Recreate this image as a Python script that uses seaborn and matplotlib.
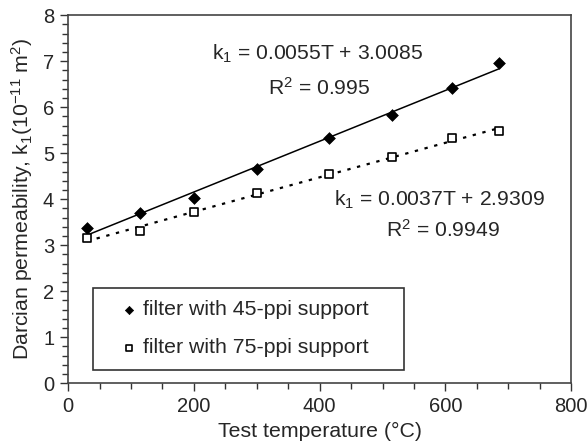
import matplotlib
matplotlib.use("Agg")
import matplotlib.pyplot as plt
import seaborn as sns
import numpy as np
import pandas as pd
from matplotlib.ticker import MultipleLocator

temperature = [30, 115, 200, 300, 415, 515, 610, 685]
k1_45ppi = [3.37, 3.69, 4.02, 4.65, 5.32, 5.84, 6.41, 6.95]
k1_75ppi = [3.15, 3.30, 3.72, 4.13, 4.54, 4.92, 5.32, 5.48]
series_labels = ["filter with 45-ppi support", "filter with 75-ppi support"]

df45 = pd.DataFrame({"T": temperature, "k": k1_45ppi})
df75 = pd.DataFrame({"T": temperature, "k": k1_75ppi})

sns.set_style("ticks")
plt.rcParams["font.family"] = ["Liberation Sans", "DejaVu Sans"]
plt.rcParams["mathtext.fontset"] = "custom"
plt.rcParams["mathtext.rm"] = "Liberation Sans"
plt.rcParams["mathtext.it"] = "Liberation Sans"

fig = plt.figure(figsize=(5.87, 4.46), dpi=100)
ax = fig.add_axes([0.116, 0.141, 0.857, 0.825])

sns.regplot(data=df45, x="T", y="k", scatter=False, ci=None, ax=ax,
            line_kws=dict(color="black", lw=1.1, ls="-"))
sns.regplot(data=df75, x="T", y="k", scatter=False, ci=None, ax=ax,
            line_kws=dict(color="black", lw=1.6, ls=(0, (1.5, 3))))

sns.scatterplot(data=df45, x="T", y="k", marker="D", s=36, color="black",
                edgecolor="black", ax=ax, label=series_labels[0], zorder=5)
sns.scatterplot(data=df75, x="T", y="k", marker="s", s=34, facecolor="white",
                edgecolor="black", linewidth=1.2, ax=ax, label=series_labels[1], zorder=5)

ax.set_xlim(0, 800)
ax.set_ylim(0, 8)
ax.xaxis.set_major_locator(MultipleLocator(200))
ax.xaxis.set_minor_locator(MultipleLocator(50))
ax.yaxis.set_major_locator(MultipleLocator(1))
ax.yaxis.set_minor_locator(MultipleLocator(0.2))
ax.tick_params(axis="both", which="major", length=6, width=1, labelsize=14.5, color="#333333", pad=4)
ax.tick_params(axis="both", which="minor", length=4, width=1, color="#333333")
ax.tick_params(top=False, right=False, which="both")
for sp in ax.spines.values():
    sp.set_color("#444444")
    sp.set_linewidth(1.2)

ax.set_xlabel("Test temperature (°C)", fontsize=15.3, labelpad=4)
ax.set_ylabel(r"Darcian permeability, k$_{1}$(10$^{-11}$ m$^{2}$)", fontsize=15.3, labelpad=6)

ax.text(396, 7.15, r"k$_1$ = 0.0055T + 3.0085", fontsize=15.2, ha="center", va="center")
ax.text(400, 6.41, r"R$^2$ = 0.995", fontsize=15.2, ha="center", va="center")
ax.text(590, 3.98, r"k$_1$ = 0.0037T + 2.9309", fontsize=15.2, ha="center", va="center")
ax.text(596, 3.33, r"R$^2$ = 0.9949", fontsize=15.2, ha="center", va="center")

leg = ax.legend(loc="lower left", bbox_to_anchor=(0.05, 0.035, 0.618, 0.225), mode="expand",
                borderaxespad=0, fontsize=15.3, frameon=True, fancybox=False, edgecolor="black",
                handletextpad=-0.44, borderpad=0.6, labelspacing=0.9, handlelength=2.2,
                markerscale=0.7)
leg.get_frame().set_linewidth(1.2)

fig.savefig("out.png", dpi=100)
